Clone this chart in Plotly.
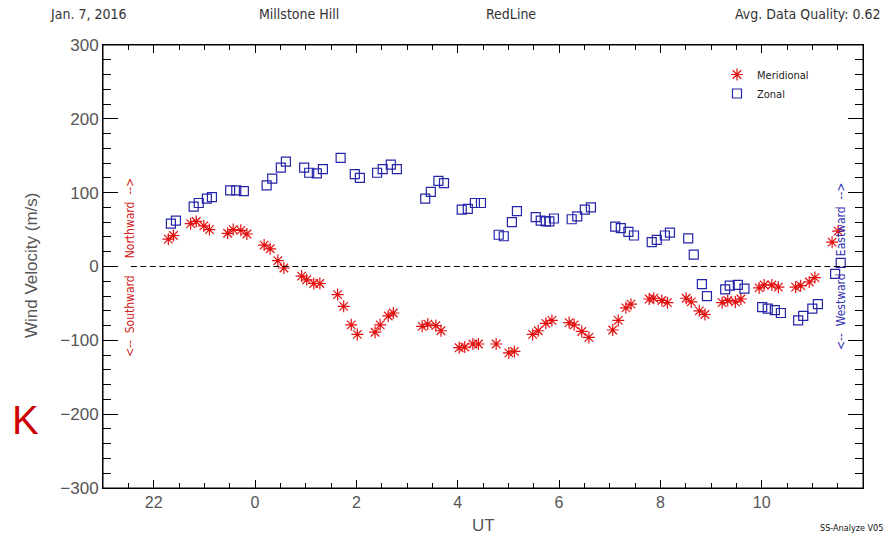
import plotly.graph_objects as go

# ---- data (UT hours; values >= 20 belong to previous day) ----
zonal_ut = [22.34, 22.44, 22.79, 22.89, 23.05, 23.15, 23.51, 23.63, 23.78,
            0.23, 0.34, 0.51, 0.61, 0.97, 1.07, 1.22, 1.34, 1.69, 1.97, 2.07,
            2.41, 2.52, 2.68, 2.80, 3.36, 3.47, 3.62, 3.73, 4.08, 4.20, 4.34,
            4.46, 4.81, 4.91, 5.07, 5.17, 5.54, 5.64, 5.74, 5.81, 5.90, 6.25,
            6.36, 6.51, 6.63, 7.11, 7.22, 7.37, 7.48, 7.83, 7.93, 8.09, 8.19,
            8.55, 8.66, 8.82, 8.92, 9.28, 9.37, 9.53, 9.66, 10.01, 10.12,
            10.26, 10.38, 10.72, 10.82, 11.00, 11.11, 11.45, 11.56]
zonal_v = [58, 62, 81, 86, 92, 94, 103, 103, 102,
           110, 119, 134, 142, 134, 127, 126, 132, 147, 125, 120,
           127, 132, 138, 132, 92, 101, 116, 113, 77, 78, 86,
           86, 43, 41, 60, 75, 67, 62, 61, 61, 65, 64,
           68, 77, 80, 54, 52, 47, 42, 33, 36, 42, 46,
           38, 16, -24, -40, -31, -26, -25, -30, -55, -57,
           -59, -63, -73, -67, -57, -51, -10, 5]

merid_ut = [22.29, 22.39, 22.73, 22.84, 22.99, 23.10, 23.46, 23.57, 23.72,
            23.84, 0.18, 0.30, 0.45, 0.57, 0.92, 1.02, 1.16, 1.28, 1.63, 1.75,
            1.90, 2.02, 2.37, 2.47, 2.63, 2.73, 3.30, 3.41, 3.57, 3.67, 4.03,
            4.14, 4.30, 4.41, 4.76, 5.01, 5.12, 5.48, 5.59, 5.74, 5.86, 6.20,
            6.30, 6.45, 6.59, 7.06, 7.17, 7.32, 7.42, 7.78, 7.87, 8.03, 8.14,
            8.51, 8.61, 8.77, 8.88, 9.22, 9.33, 9.48, 9.59, 9.95, 10.05,
            10.20, 10.33, 10.67, 10.77, 10.94, 11.05, 11.39, 11.51]
merid_v = [37, 42, 58, 61, 55, 50, 45, 50, 49,
           44, 29, 24, 8, -2, -13, -18, -23, -23, -38, -54,
           -79, -92, -89, -79, -67, -63, -81, -78, -80, -87, -110,
           -109, -105, -105, -105, -117, -115, -92, -87, -77, -73, -76,
           -79, -88, -96, -86, -73, -56, -51, -44, -43, -46, -49,
           -43, -48, -60, -65, -49, -46, -48, -44, -29, -25,
           -25, -28, -28, -26, -21, -15, 33, 48]

xtick_vals = [22, 24, 26, 28, 30, 32, 34]
xtick_text = ["22", "0", "2", "4", "6", "8", "10"]
ytick_vals = [-300, -200, -100, 0, 100, 200, 300]


def cont(ut):
    return [t if t >= 20 else t + 24 for t in ut]


LBL = "Liberation Sans Narrow, DejaVu Sans Condensed, Liberation Sans, sans-serif"
TICKF = "Liberation Sans, Arial, sans-serif"

# plot area in pixels
L, R, T, B = 103, 863, 45, 488
PW, PH = R - L, B - T


def px(x):
    return (x - L) / PW


def py(y):
    return (B - y) / PH


fig = go.Figure()
fig.add_trace(go.Scatter(
    x=cont(merid_ut), y=merid_v, mode="markers", name="Meridional",
    marker=dict(symbol="asterisk", size=10, color="#e41010",
                line=dict(color="#e41010", width=1.2))))
fig.add_trace(go.Scatter(
    x=cont(zonal_ut), y=zonal_v, mode="markers", name="Zonal",
    marker=dict(symbol="square-open", size=9, color="#2424a8",
                line=dict(color="#2424a8", width=1.2))))

fig.add_shape(type="line", xref="x", yref="y", x0=21.55, x1=36, y0=0, y1=0,
              line=dict(color="black", width=1, dash="6px,3.5px"))
fig.add_shape(type="rect", xref="paper", yref="paper", x0=0, x1=1, y0=0, y1=1,
              line=dict(color="black", width=1), layer="above")

axis_common = dict(showline=True, linecolor="black", linewidth=1,
                   mirror="ticks", ticks="inside", tickcolor="black",
                   tickwidth=1, showgrid=False, zeroline=False)

fig.update_xaxes(range=[21, 36], tickvals=xtick_vals, ticktext=xtick_text,
                 ticklen=8,
                 minor=dict(dtick=0.5, ticks="inside", ticklen=5,
                            tickcolor="black", showgrid=False),
                 tickfont=dict(family=TICKF, size=16, color="#555555"),
                 **axis_common)
fig.update_yaxes(range=[-300, 300], tickvals=ytick_vals, ticklen=15,
                 minor=dict(dtick=20, ticks="inside", ticklen=8,
                            tickcolor="black", showgrid=False),
                 tickfont=dict(family=TICKF, size=17, color="#555555"),
                 **axis_common)

base = dict(xref="paper", yref="paper", showarrow=False,
            xanchor="center", yanchor="middle")
hdr_font = dict(family=LBL, size=14, color="#333333")
ann = [
    dict(text="Jan. 7, 2016", x=px(88), y=py(14), font=hdr_font, **base),
    dict(text="Millstone Hill", x=px(299), y=py(14), font=hdr_font, **base),
    dict(text="RedLine", x=px(511), y=py(14), font=hdr_font, **base),
    dict(text="Avg. Data Quality: 0.62", x=px(808), y=py(14), font=hdr_font, **base),
    dict(text="Wind Velocity (m/s)", x=px(31), y=py(266), textangle=-90,
         font=dict(family=TICKF, size=17, color="#555555"), **base),
    dict(text="UT", x=px(483), y=py(525),
         font=dict(family=TICKF, size=17, color="#555555"), **base),
    dict(text="SS-Analyze V05", x=px(851), y=py(528),
         font=dict(family=LBL, size=9, color="#111111"), **base),
    dict(text="K", x=px(25), y=py(420),
         font=dict(family="Liberation Sans, Arial, sans-serif", size=40,
                   color="#cc0000"), **base),
    dict(text="<--  Southward     Northward  -->", x=px(130), y=py(268),
         textangle=-90, font=dict(family=LBL, size=12, color="#d02020"), **base),
    dict(text="<--  Westward     Eastward  -->", x=px(841), y=py(267),
         textangle=-90, font=dict(family=LBL, size=12, color="#3030b0"), **base),
]

fig.update_layout(
    width=886, height=537,
    margin=dict(l=L, r=886 - R, t=T, b=537 - B),
    paper_bgcolor="white", plot_bgcolor="white",
    showlegend=True,
    legend=dict(x=px(717), y=py(60), xanchor="left", yanchor="top",
                bgcolor="rgba(0,0,0,0)",
                font=dict(family=LBL, size=11, color="#222222"),
                itemwidth=30, tracegroupgap=0),
    annotations=ann,
)

fig.write_html("out.html")
